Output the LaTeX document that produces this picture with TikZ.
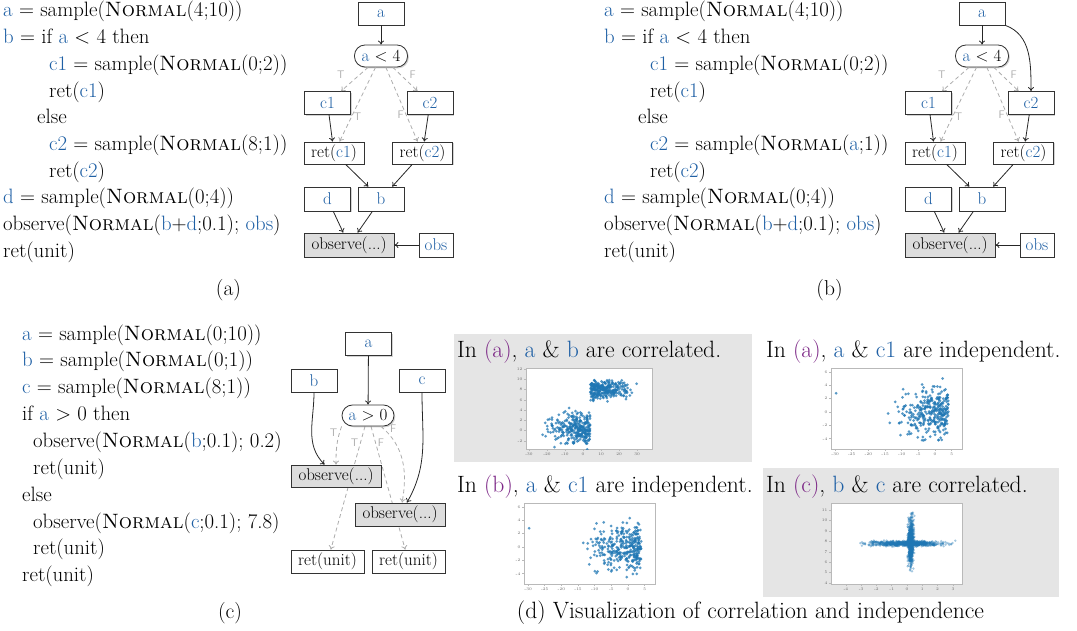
\documentclass[tikz,border=0pt]{standalone}
\usetikzlibrary{arrows.meta,shadows,backgrounds}

\definecolor{varblue}{RGB}{31,96,165}
\definecolor{capurple}{RGB}{125,40,135}
\definecolor{ctrlgray}{RGB}{172,172,172}
\definecolor{obsgray}{RGB}{221,221,221}
\definecolor{panelgray}{RGB}{229,229,229}
\definecolor{dotblue}{RGB}{31,119,180}
\definecolor{axisgray}{RGB}{185,185,185}

\newcommand\vr[1]{\textcolor{varblue}{#1}}
\newcommand\pl[1]{\textcolor{capurple}{#1}}
\newcommand\codefont{\fontsize{20.8}{24}\selectfont}
\newcommand\nodefont{\fontsize{17}{20}\selectfont}
\newcommand\tffont{\fontsize{11}{12}\selectfont\sffamily}
\newcommand\capfont{\fontsize{21.5}{26}\selectfont}
\newcommand\visfont{\fontsize{23.6}{28}\selectfont}
\newcommand\tickfont{\fontsize{4}{4}\selectfont}

\tikzset{
  box/.style={draw=black!80, fill=white, line width=0.8pt, minimum width=46pt,
    minimum height=23pt, inner sep=1pt, font=\nodefont,
    drop shadow={shadow xshift=1.3pt, shadow yshift=-1.3pt, opacity=0.35}},
  decision/.style={box, rounded corners=10.5pt, minimum width=53pt, minimum height=22pt},
  retbox/.style={box, minimum width=60pt, minimum height=22pt},
  obsbox/.style={box, fill=obsgray, minimum width=90pt, minimum height=24pt},
  dep/.style={-{To[length=4pt,width=6pt]}, line width=0.8pt, black!85},
  ctrl/.style={dep, ctrlgray, dash pattern=on 4pt off 3pt},
  tf/.style={font=\tffont, text=ctrlgray, inner sep=1pt},
  code/.style={anchor=base west, inner sep=0pt, font=\codefont},
  captext/.style={anchor=base, inner sep=0pt, font=\capfont},
  vistext/.style={anchor=base west, inner sep=0pt, font=\visfont},
  axisline/.style={draw=axisgray, line width=0.6pt},
  ticklab/.style={font=\tickfont, text=black!60, inner sep=0.5pt},
  sdot/.style={fill=dotblue, opacity=0.75},
}

\begin{document}
\begin{tikzpicture}[x=1pt, y=-1pt]
\useasboundingbox (0,0) rectangle (1077,631);

% (a) program
\node[code] (la1) at (3,17) {\vr{a} = sample(\textsc{Normal}(4;10))};
\node[code] (la2) at (3,43.7) {\vr{b} = if \vr{a} < 4 then};
\node[code] (la3) at (49,70.4) {\vr{c1} = sample(\textsc{Normal}(0;2))};
\node[code] (la4) at (49,97.1) {ret(\vr{c1})};
\node[code] (la5) at (37,123.8) {else};
\node[code] (la6) at (49,150.5) {\vr{c2} = sample(\textsc{Normal}(8;1))};
\node[code] (la7) at (49,177.2) {ret(\vr{c2})};
\node[code] (la8) at (3,203.9) {\vr{d} = sample(\textsc{Normal}(0;4))};
\node[code] (la9) at (3,230.6) {observe(\textsc{Normal}(\vr{b}+\vr{d};0.1); \vr{obs})};
\node[code] (la10) at (3,257.3) {ret(unit)};
\node[captext] (capA) at (228.5,295) {(a)};

% (a) graph
\node[box] (aA) at (381,13.5) {\vr{a}};
\node[decision] (condA) at (381,56) {\vr{a} < 4};
\node[box] (c1A) at (327.5,103) {\vr{c1}};
\node[box] (c2A) at (430,103) {\vr{c2}};
\node[retbox] (rc1A) at (334,153) {ret(\vr{c1})};
\node[retbox] (rc2A) at (422.5,153) {ret(\vr{c2})};
\node[box, minimum height=24pt] (dA) at (327.5,199) {\vr{d}};
\node[box, minimum height=24pt] (bA) at (381,199) {\vr{b}};
\node[obsbox] (obA) at (349,245) {observe(...)};
\node[box, minimum width=34pt, minimum height=24pt] (obsA) at (436,245) {\vr{obs}};

\draw[dep] (aA) -- (condA);
\draw[ctrl] (condA) -- node[tf, pos=0.3, left=14pt] {T} (c1A);
\draw[ctrl] (condA) -- node[tf, pos=0.67, right=1pt] {T} (rc1A);
\draw[ctrl] (condA) -- node[tf, pos=0.3, right=8pt] {F} (c2A);
\draw[ctrl] (condA) -- node[tf, pos=0.64, left=1pt] {F} (rc2A);
\draw[dep] (c1A) -- (rc1A);
\draw[dep] (c2A) -- (rc2A);
\draw[dep] (rc1A) -- (bA);
\draw[dep] (rc2A) -- (bA);
\draw[dep] (dA) -- (obA);
\draw[dep] (bA) -- (obA);
\draw[dep] (obsA) -- (obA);

% (b) program
\node[code] (lb1) at (604,17) {\vr{a} = sample(\textsc{Normal}(4;10))};
\node[code] (lb2) at (604,43.7) {\vr{b} = if \vr{a} < 4 then};
\node[code] (lb3) at (650,70.4) {\vr{c1} = sample(\textsc{Normal}(0;2))};
\node[code] (lb4) at (650,97.1) {ret(\vr{c1})};
\node[code] (lb5) at (638,123.8) {else};
\node[code] (lb6) at (650,150.5) {\vr{c2} = sample(\textsc{Normal}(\vr{a};1))};
\node[code] (lb7) at (650,177.2) {ret(\vr{c2})};
\node[code] (lb8) at (604,203.9) {\vr{d} = sample(\textsc{Normal}(0;4))};
\node[code] (lb9) at (604,230.6) {observe(\textsc{Normal}(\vr{b}+\vr{d};0.1); \vr{obs})};
\node[code] (lb10) at (604,257.3) {ret(unit)};
\node[captext] (capB) at (829.5,295) {(b)};

% (b) graph
\node[box] (aB) at (982,13.5) {\vr{a}};
\node[decision] (condB) at (982,56) {\vr{a} < 4};
\node[box] (c1B) at (928.5,103) {\vr{c1}};
\node[box] (c2B) at (1031,103) {\vr{c2}};
\node[retbox] (rc1B) at (935,153) {ret(\vr{c1})};
\node[retbox] (rc2B) at (1023.5,153) {ret(\vr{c2})};
\node[box, minimum height=24pt] (dB) at (928.5,199) {\vr{d}};
\node[box, minimum height=24pt] (bB) at (982,199) {\vr{b}};
\node[obsbox] (obB) at (950,245) {observe(...)};
\node[box, minimum width=34pt, minimum height=24pt] (obsB) at (1037,245) {\vr{obs}};

\draw[dep] (aB) -- (condB);
\draw[dep] (aB.south east) to[out=-20,in=90] (c2B);
\draw[ctrl] (condB) -- node[tf, pos=0.3, left=14pt] {T} (c1B);
\draw[ctrl] (condB) -- node[tf, pos=0.67, right=1pt] {T} (rc1B);
\draw[ctrl] (condB) -- node[tf, pos=0.3, right=8pt] {F} (c2B);
\draw[ctrl] (condB) -- node[tf, pos=0.64, left=1pt] {F} (rc2B);
\draw[dep] (c1B) -- (rc1B);
\draw[dep] (c2B) -- (rc2B);
\draw[dep] (rc1B) -- (bB);
\draw[dep] (rc2B) -- (bB);
\draw[dep] (dB) -- (obB);
\draw[dep] (bB) -- (obB);
\draw[dep] (obsB) -- (obB);

% (c) program
\node[code] (lc1) at (22,340) {\vr{a} = sample(\textsc{Normal}(0;10))};
\node[code] (lc2) at (22,366.9) {\vr{b} = sample(\textsc{Normal}(0;1))};
\node[code] (lc3) at (22,393.7) {\vr{c} = sample(\textsc{Normal}(8;1))};
\node[code] (lc4) at (22,420.6) {if \vr{a} > 0 then};
\node[code] (lc5) at (33,447.4) {observe(\textsc{Normal}(\vr{b};0.1); 0.2)};
\node[code] (lc6) at (33,474.3) {ret(unit)};
\node[code] (lc7) at (22,501.1) {else};
\node[code] (lc8) at (33,528) {observe(\textsc{Normal}(\vr{c};0.1); 7.8)};
\node[code] (lc9) at (33,554.8) {ret(unit)};
\node[code] (lc10) at (22,581.7) {ret(unit)};
\node[captext] (capC) at (230,618) {(c)};

% (c) graph
\node[box] (aC) at (368.5,344) {\vr{a}};
\node[box] (bC) at (314,380.5) {\vr{b}};
\node[box] (cC) at (422,380.5) {\vr{c}};
\node[decision, minimum width=52pt, minimum height=21pt] (condC) at (368,415.5) {\vr{a} > 0};
\node[obsbox, minimum height=22pt] (ob1C) at (336,476) {observe(...)};
\node[obsbox, minimum height=23pt] (ob2C) at (400,514.5) {observe(...)};
\node[box, minimum width=73pt] (ru1C) at (327.5,561.5) {ret(unit)};
\node[box, minimum width=73pt] (ru2C) at (408.5,561.5) {ret(unit)};

\draw[dep] (aC) -- (condC);
\draw[dep] (bC) to[out=-90,in=135] (ob1C);
\draw[dep] (cC) to[out=-90,in=60] (ob2C);
\draw[ctrl] (condC.south west) to[out=-110,in=90] node[tf, pos=0.15, left=1pt] {T} (ob1C);
\draw[ctrl] (condC) to[out=-40,in=80] node[tf, pos=0.12, above right=0pt] {F} (ob2C);
\begin{scope}[on background layer]
\draw[ctrl] (condC) -- node[tf, pos=0.13, left=1pt] {T} (ru1C);
\draw[ctrl] (condC) -- node[tf, pos=0.13, right=1pt] {F} (ru2C);
\end{scope}

% (d) panels
\fill[panelgray] (454,334) rectangle (752,462);
\fill[panelgray] (763,468) rectangle (1059,597);
\node[vistext] (txt1) at (457,357) {In \pl{(a)}, \vr{a} \& \vr{b} are correlated.};
\node[vistext] (txt2) at (766,357) {In \pl{(a)}, \vr{a} \& \vr{c1} are independent.};
\node[vistext] (txt3) at (457,492) {In \pl{(b)}, \vr{a} \& \vr{c1} are independent.};
\node[vistext] (txt4) at (766,492) {In \pl{(c)}, \vr{b} \& \vr{c} are correlated.};
\node[captext, font=\visfont] (capD) at (750.5,618) {(d) Visualization of correlation and independence};

\pgfmathsetseed{4217}
% plot 1: a vs b
\draw[axisline, fill=white] (526,368) rectangle (652,449);
\foreach \v [count=\k] in {-30,-20,...,30} {
  \draw[axisline] ({583+1.8*\v},449) -- ++(0,2);
  \node[ticklab] (p1x\k) at ({583+1.8*\v},454) {\v};
}
\foreach \v [count=\k] in {-2,0,...,12} {
  \draw[axisline] (526,{430.7-5.14*\v}) -- ++(-2,0);
  \node[ticklab, anchor=east] (p1y\k) at (523,{430.7-5.14*\v}) {\v};
}
\begin{scope}
\clip (526,368) rectangle (652,449);
\foreach \i in {1,...,600} {
  \pgfmathsetmacro\xa{4+10*(rand+rand+rand)}
  \pgfmathsetmacro\yb{\xa<4 ? 0.4+1.5*(rand+rand+rand) : 8+0.9*(rand+rand+rand)}
  \fill[sdot] ({583+1.8*\xa},{430.7-5.14*\yb}) circle (1.5pt);
}
\end{scope}

% plot 2: a vs c1
\draw[axisline, fill=white] (831,368) rectangle (962,449);
\foreach \v [count=\k] in {-30,-25,...,5} {
  \draw[axisline] ({935+3.33*\v},449) -- ++(0,2);
  \node[ticklab] (p2x\k) at ({935+3.33*\v},454) {\v};
}
\foreach \v [count=\k] in {-4,-2,...,6} {
  \draw[axisline] (831,{412-6.67*\v}) -- ++(-2,0);
  \node[ticklab, anchor=east] (p2y\k) at (828,{412-6.67*\v}) {\v};
}
\begin{scope}
\clip (831,368) rectangle (962,449);
\fill[sdot] ({935+3.33*(-29.7)},{412-6.67*2.8}) circle (1.5pt);
\foreach \i in {1,...,330} {
  \pgfmathsetmacro\xa{4-7*abs(rand+rand+rand)}
  \pgfmathsetmacro\yc{1.8*(rand+rand+rand)}
  \fill[sdot] ({935+3.33*\xa},{412-6.67*\yc}) circle (1.5pt);
}
\end{scope}

% plot 3: a vs c1
\draw[axisline, fill=white] (524,503) rectangle (655,584);
\foreach \v [count=\k] in {-30,-25,...,5} {
  \draw[axisline] ({628+3.33*\v},584) -- ++(0,2);
  \node[ticklab] (p3x\k) at ({628+3.33*\v},589) {\v};
}
\foreach \v [count=\k] in {-4,-2,...,6} {
  \draw[axisline] (524,{547-6.67*\v}) -- ++(-2,0);
  \node[ticklab, anchor=east] (p3y\k) at (521,{547-6.67*\v}) {\v};
}
\begin{scope}
\clip (524,503) rectangle (655,584);
\fill[sdot] ({628+3.33*(-29.7)},{547-6.67*2.8}) circle (1.5pt);
\foreach \i in {1,...,330} {
  \pgfmathsetmacro\xa{4-7*abs(rand+rand+rand)}
  \pgfmathsetmacro\yc{1.8*(rand+rand+rand)}
  \fill[sdot] ({628+3.33*\xa},{547-6.67*\yc}) circle (1.5pt);
}
\end{scope}

% plot 4: b vs c
\draw[axisline, fill=white] (831,503) rectangle (962,584);
\foreach \v [count=\k] in {-4,...,3} {
  \draw[axisline] ({907+15.3*\v},584) -- ++(0,2);
  \node[ticklab] (p4x\k) at ({907+15.3*\v},589) {\v};
}
\foreach \v [count=\k] in {4,...,11} {
  \draw[axisline] (831,{541.5-10.4*(\v-8)}) -- ++(-2,0);
  \node[ticklab, anchor=east] (p4y\k) at (828,{541.5-10.4*(\v-8)}) {\v};
}
\begin{scope}
\clip (831,503) rectangle (962,584);
\foreach \i in {1,...,700} {
  \pgfmathsetmacro\xb{1.15*(rand+rand+rand)}
  \pgfmathsetmacro\yc{7.8+0.12*(rand+rand+rand)}
  \fill[sdot, opacity=0.4] ({907+15.3*\xb},{541.5-10.4*(\yc-8)}) circle (1.3pt);
}
\foreach \i in {1,...,700} {
  \pgfmathsetmacro\xb{0.25+0.09*(rand+rand+rand)}
  \pgfmathsetmacro\yc{8+1.1*(rand+rand+rand)}
  \fill[sdot, opacity=0.4] ({907+15.3*\xb},{541.5-10.4*(\yc-8)}) circle (1.3pt);
}
\end{scope}
\end{tikzpicture}
\end{document}
